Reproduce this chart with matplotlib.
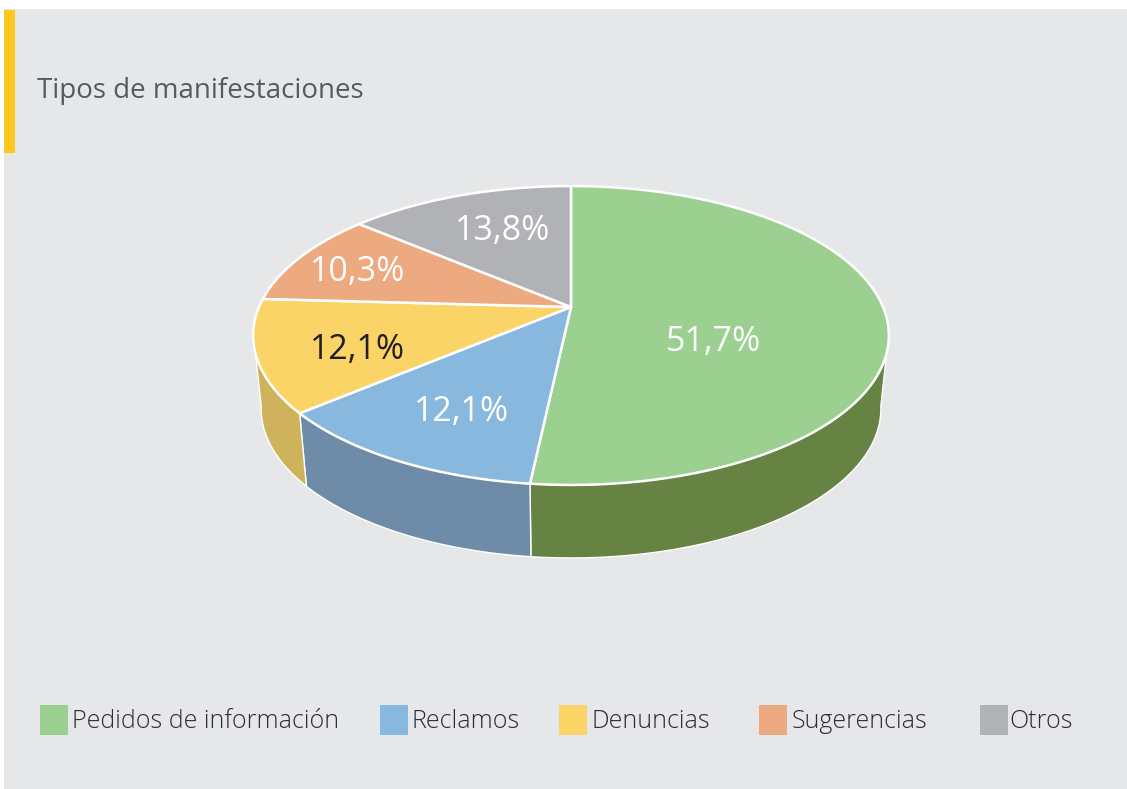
import numpy as np
import matplotlib
matplotlib.use("Agg")
import matplotlib.pyplot as plt
from matplotlib.patches import Rectangle

# ---------- data ----------
categories = ["Pedidos de información", "Reclamos", "Denuncias", "Sugerencias", "Otros"]
values = [51.7, 12.1, 12.1, 10.3, 13.8]
value_labels = ["51,7%", "12,1%", "12,1%", "10,3%", "13,8%"]
title = "Tipos de manifestaciones"

# ---------- styles ----------
top_colors = ["#9CD091", "#88B8DE", "#FAD467", "#EDA97F", "#B1B2B6"]
wall_colors = ["#678343", "#6E8CA7", "#CFB35C", "#B1B2B6", "#B1B2B6"]
label_colors = ["white", "white", "#231F20", "white", "white"]
BG = "#E6E7E9"

# ---------- layout (pixel coordinates) ----------
W, H = 1127, 789
CX, CY = 571, 307        # apex of the pie
A, B, P = 312, 144, 0.1907   # perspective projection of the disc
BASE_SX, BASE_SY, BASE_CY = 0.975, 1.0, 380
SIL_FRONT = (100, 260)   # angles where the wall silhouette starts
label_xy = [(713, 342), (462, 412), (358, 350), (358, 272), (503, 231)]
swatch_x = [40, 380, 559, 759, 980]
legend_text_x = [72, 412, 591, 792, 1009]

plt.rcParams["font.family"] = ["Open Sans", "DejaVu Sans"]
fig = plt.figure(figsize=(W / 100, H / 100), dpi=100, facecolor="white")
ax = fig.add_axes([0, 0, 1, 1])
ax.set_xlim(0, W)
ax.set_ylim(H, 0)
ax.axis("off")


def rim(theta_deg):
    t = np.radians(theta_deg)
    u, v = np.sin(t), np.cos(t)
    w = 1 + P * v
    return A * u / w, -B * v / w


def top_pt(th):
    x, y = rim(th)
    return CX + x, CY + y


def base_pt(th):
    x, y = rim(th)
    return CX + BASE_SX * x, BASE_CY + BASE_SY * y


# panel and accent
ax.add_patch(Rectangle((4, 9), W - 4, H - 9, fc=BG, ec="none", zorder=0))
ax.add_patch(Rectangle((4, 10), 11, 143, fc="#FFC720", ec="none", zorder=1))
ax.text(37, 98, title, fontsize=20, color="#58595B", ha="left", va="baseline", zorder=5)

edges = np.concatenate([[0], np.cumsum(values)]) * 360 / np.sum(values)

# side walls (only the front-facing part)
for i in range(len(values)):
    a = max(edges[i], SIL_FRONT[0])
    b = min(edges[i + 1], SIL_FRONT[1])
    if b <= a:
        continue
    th = np.linspace(a, b, 200)
    tx, ty = top_pt(th)
    bx, by = base_pt(th)
    ax.fill(np.r_[tx, bx[::-1]], np.r_[ty, by[::-1]], fc=wall_colors[i],
            ec="white", lw=1.0, joinstyle="round", zorder=2)

# top face
for i in range(len(values)):
    th = np.linspace(edges[i], edges[i + 1], 300)
    tx, ty = top_pt(th)
    ax.fill(np.r_[CX, tx], np.r_[CY, ty], fc=top_colors[i],
            ec="white", lw=1.8, joinstyle="round", zorder=3)

# value labels
for (x, y), s, c in zip(label_xy, value_labels, label_colors):
    ax.text(x, y, s, color=c, fontsize=24.5, ha="center", va="center", zorder=6)

# legend
for sx, tx_, name, col in zip(swatch_x, legend_text_x, categories, top_colors):
    ax.add_patch(Rectangle((sx, 705), 28, 30, fc=col, ec="none", zorder=4))
    ax.text(tx_, 728, name, fontsize=18, color="#2E2E30", fontweight="light",
            ha="left", va="baseline", zorder=5)

fig.savefig("out.png", dpi=100, facecolor="white")
